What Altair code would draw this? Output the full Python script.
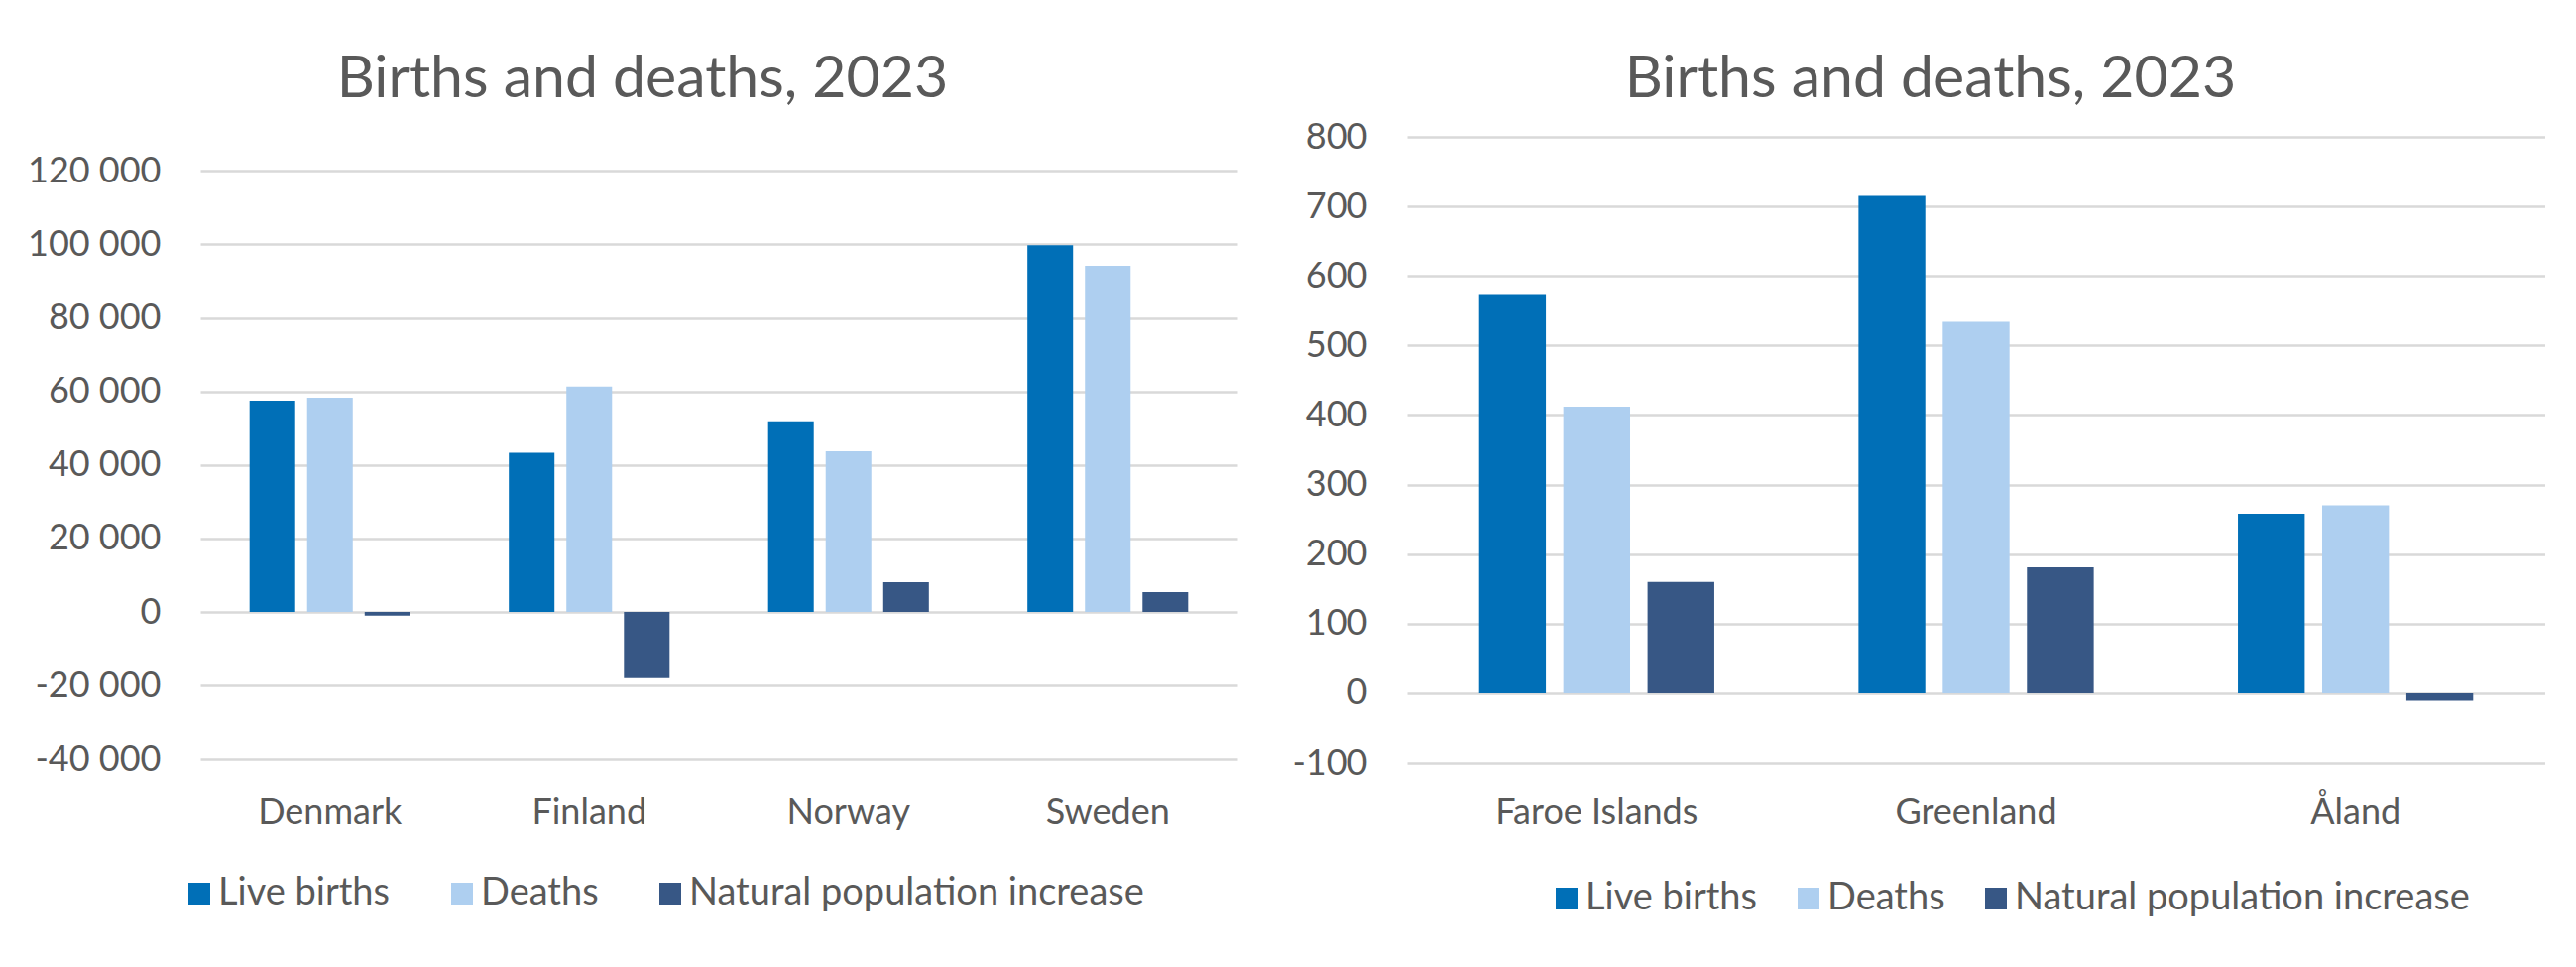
import altair as alt
import pandas as pd

series = ["Live births", "Deaths", "Natural population increase"]
colors = ["#006FB7", "#AECFF0", "#375785"]

left_categories = ["Denmark", "Finland", "Norway", "Sweden"]
left_births = [57500, 43300, 51900, 99800]
left_deaths = [58300, 61300, 43700, 94200]
left_increase = [-1000, -18000, 8100, 5400]
left_ticks = [-40000, -20000, 0, 20000, 40000, 60000, 80000, 100000, 120000]

right_categories = ["Faroe Islands", "Greenland", "Åland"]
right_births = [574, 715, 258]
right_deaths = [412, 534, 270]
right_increase = [160, 181, -11]
right_ticks = [-100, 0, 100, 200, 300, 400, 500, 600, 700, 800]

title_text = "Births and deaths, 2023"

FONT = "Lato"
TXT = "#595959"
GRID = "#D9D9D9"


def long_df(cats, b, d, n):
    rows = []
    for i, c in enumerate(cats):
        for s, v in zip(series, [b[i], d[i], n[i]]):
            rows.append({"country": c, "series": s, "value": v})
    return pd.DataFrame(rows)


def panel(df, cats, ticks, width, height, y_range, title_dx, title_offset,
          axis_extent, label_pad_x, legend_x, legend_y, col_pad):
    return alt.Chart(df).mark_bar().encode(
        x=alt.X("country:N", sort=cats, title=None,
                scale=alt.Scale(paddingInner=0.38, paddingOuter=0.19),
                axis=alt.Axis(labelAngle=0, labelFont=FONT, labelFontSize=36,
                              labelColor=TXT, ticks=False, domain=False,
                              labelPadding=label_pad_x, grid=False,
                              labelLimit=0)),
        xOffset=alt.XOffset("series:N", sort=series,
                            scale=alt.Scale(paddingInner=0.207, paddingOuter=0)),
        y=alt.Y("value:Q", title=None,
                scale=alt.Scale(domain=[ticks[0], ticks[-1]], nice=False,
                                zero=True, range=y_range),
                axis=alt.Axis(values=ticks, labelFont=FONT, labelFontSize=36,
                              labelColor=TXT, ticks=False, domain=False,
                              labelPadding=40, grid=True, gridColor=GRID,
                              gridWidth=2.6, minExtent=axis_extent,
                              maxExtent=axis_extent,
                              labelExpr="(datum.value < 0 ? '-' : '') + replace(format(abs(datum.value), ','), regexp(',', 'g'), ' ')")),
        color=alt.Color("series:N", sort=series,
                        scale=alt.Scale(domain=series, range=colors),
                        legend=alt.Legend(orient="none", legendX=legend_x,
                                          legendY=legend_y, direction="horizontal",
                                          title=None, symbolType="square",
                                          symbolSize=484, symbolStrokeWidth=0,
                                          symbolOpacity=1,
                                          labelFont=FONT, labelFontSize=38,
                                          labelColor=TXT, labelOffset=0,
                                          labelLimit=0,
                                          columnPadding=col_pad, padding=0)),
    ).properties(
        width=width, height=height,
        title=alt.TitleParams(title_text, font=FONT, fontSize=59, color=TXT,
                              fontWeight="normal", anchor="middle", frame="group",
                              dx=title_dx, offset=title_offset,
                              baseline="alphabetic"),
    )


left = panel(long_df(left_categories, left_births, left_deaths, left_increase),
             left_categories, left_ticks, 1046, 631, [627.3, 34.3], -77, -19,
             194, 33, -20, 744, 53)
right = panel(long_df(right_categories, right_births, right_deaths, right_increase),
              right_categories, right_ticks, 1148, 631, [631, 0], -46, -37,
              130, 33, 142, 749, 32)

chart = alt.hconcat(left, right, spacing=41).resolve_scale(
    x="independent", y="independent", color="independent", xOffset="independent"
).resolve_legend(color="independent").properties(
    padding={"left": 0, "top": 43, "right": 0, "bottom": 0},
    background="white",
).configure_view(strokeWidth=0)

chart.save("out.html", embed_options={"renderer": "svg", "actions": False})
